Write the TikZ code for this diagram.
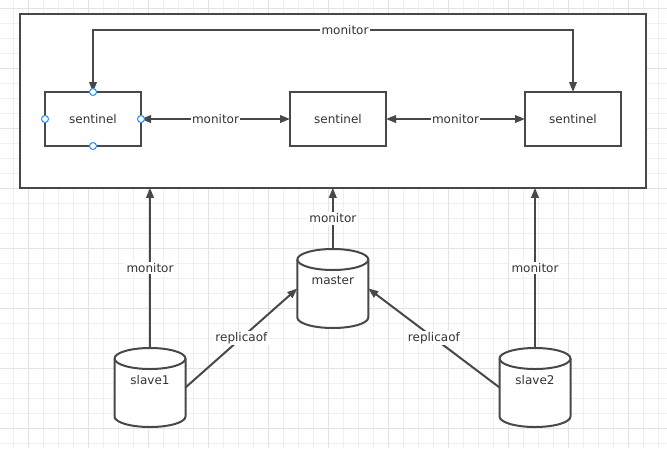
\documentclass[tikz,border=0pt]{standalone}
\usepackage{fontspec}
\setmainfont{DejaVu Sans}
\usetikzlibrary{arrows.meta}
\definecolor{lc}{HTML}{484848}
\definecolor{tc}{HTML}{333333}
\definecolor{gmin}{HTML}{F0F0F0}
\definecolor{gmaj}{HTML}{E3E3E3}
\definecolor{selc}{HTML}{1E8FFF}
\newcommand\cylshape[1]{%
  \draw[draw=lc, line width=2pt, fill=white]
    ([yshift=-10.5pt]#1.north west) -- ([yshift=10.5pt]#1.south west)
    arc[start angle=180, end angle=360, x radius=35.5pt, y radius=10.5pt]
    -- ([yshift=-10.5pt]#1.north east)
    arc[start angle=0, end angle=180, x radius=35.5pt, y radius=10.5pt] -- cycle;
  \draw[draw=lc, line width=2pt]
    ([yshift=-10.5pt]#1.north west)
    arc[start angle=180, end angle=360, x radius=35.5pt, y radius=10.5pt];
}
\begin{document}
\begin{tikzpicture}[x=1pt, y=-1pt, font=\fontsize{12}{14}\selectfont,
  uni/.style={draw=lc, line width=2pt, -{Triangle[length=10pt,width=7.5pt]}},
  bi/.style={draw=lc, line width=2pt, {Triangle[length=10pt,width=7.5pt]}-{Triangle[length=10pt,width=7.5pt]}},
  box/.style={draw=lc, line width=2pt, fill=white, minimum width=96pt, minimum height=54pt, inner sep=0pt, outer sep=0pt, text=tc},
  lbl/.style={fill=white, text=tc, inner sep=1.5pt},
  cylbox/.style={minimum width=71pt, minimum height=79pt, inner sep=0pt, outer sep=0pt},
  cyltext/.style={text=tc, inner sep=0pt},
  selpt/.style={circle, draw=selc, fill=white, line width=1pt, minimum size=7pt, inner sep=0pt},
]
\useasboundingbox (0,0) rectangle (667,448);
% grid
\foreach \k in {0,...,43} {
  \draw[gmin, line width=1pt] (13.3+15*\k,0) -- (13.3+15*\k,448);
}
\foreach \k in {0,...,29} {
  \draw[gmin, line width=1pt] (0,8.3+15*\k) -- (667,8.3+15*\k);
}
\foreach \k in {0,...,10} {
  \draw[gmaj, line width=1pt] (28.3+60*\k,0) -- (28.3+60*\k,448);
}
\foreach \k in {0,...,7} {
  \draw[gmaj, line width=1pt] (0,8.3+60*\k) -- (667,8.3+60*\k);
}
% outer frame
\node[draw=lc, line width=2pt, fill=white, minimum width=626pt, minimum height=174pt, inner sep=0pt, outer sep=0pt] (outer) at (333.2,100.8) {};
% sentinels
\node[box] (s1) at (93,119) {sentinel};
\node[box] (s2) at (338,119) {sentinel};
\node[box] (s3) at (573,119) {sentinel};
% cylinders
\node[cylbox] (master) at (332.8,288.5) {};
\node[cylbox] (slave1) at (150,387.5) {};
\node[cylbox] (slave2) at (535,387.5) {};
\cylshape{master}
\cylshape{slave1}
\cylshape{slave2}
\node[cyltext] (masterT) at (332.8,280) {master};
\node[cyltext] (slave1T) at (150,380) {slave1};
\node[cyltext] (slave2T) at (535,380) {slave2};
% connectors
\coordinate (tl) at (93,30);
\coordinate (tr) at (573,30);
\draw[bi] (s1.north) -- (tl) -- node[lbl, pos=0.525] {monitor} (tr) -- (s3.north);
\draw[bi] (s1.east) -- node[lbl] {monitor} (s2.west);
\draw[bi] (s2.east) -- node[lbl] {monitor} (s3.west);
\draw[uni] (slave1.north) -- node[lbl] {monitor} (slave1.north |- outer.south);
\draw[uni] (master.north) -- node[lbl] {monitor} (master.north |- outer.south);
\draw[uni] (slave2.north) -- node[lbl] {monitor} (slave2.north |- outer.south);
\draw[uni] (slave1.east) -- node[lbl] {replicaof} (master.west);
\draw[uni] (slave2.west) -- node[lbl] {replicaof} (master.east);
% selection handles
\node[selpt] (h1) at (s1.north) {};
\node[selpt] (h2) at (s1.south) {};
\node[selpt] (h3) at (s1.west) {};
\node[selpt] (h4) at (s1.east) {};
\end{tikzpicture}
\end{document}
